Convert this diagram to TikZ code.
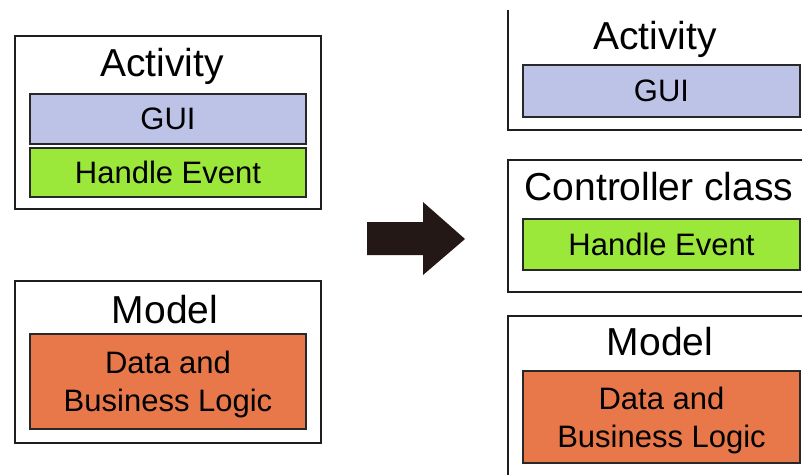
\documentclass[tikz,border=0pt]{standalone}
\usepackage{fontspec}
\setmainfont{Liberation Sans}
\definecolor{boxline}{RGB}{30,30,30}
\definecolor{partline}{RGB}{40,40,40}
\definecolor{guicol}{RGB}{189,195,230}
\definecolor{eventcol}{RGB}{155,232,58}
\definecolor{datacol}{RGB}{232,120,74}
\definecolor{arrowcol}{RGB}{35,24,21}
\begin{document}
\begin{tikzpicture}[x=1pt,y=-1pt,
  outerbox/.style={draw=boxline, line width=2pt, fill=white, inner sep=0pt},
  partbox/.style={draw=partline, line width=1.6pt, inner sep=0pt, align=center,
    font=\fontsize{31}{38}\selectfont},
  title/.style={font=\fontsize{39}{44}\selectfont, anchor=base, inner sep=0pt},
  guifill/.style={fill=guicol},
  eventfill/.style={fill=eventcol},
  datafill/.style={fill=datacol, text depth=0pt},
  arrowfill/.style={fill=arrowcol, draw=none}
]
\useasboundingbox (0,0) rectangle (802,474);
\fill[white] (0,0) rectangle (802,474);

% ---- left side: Activity and Model ----
\node[outerbox, minimum width=306pt, minimum height=173pt] (lact) at (168,122.5) {};
\node[title] (lacttitle) at (162,76) {Activity};
\node[partbox, guifill, minimum width=276pt, minimum height=50pt] (lgui) at (168,119) {GUI};
\node[partbox, eventfill, minimum width=276pt, minimum height=49pt] (levent) at (168,172.5) {Handle Event};

\node[outerbox, minimum width=306pt, minimum height=162pt] (lmodel) at (168,362) {};
\node[title] (lmodeltitle) at (165,323) {Model};
\node[partbox, datafill, minimum width=276pt, minimum height=95pt] (ldata) at (168,381.5) {Data and\\Business Logic};

% ---- transition arrow ----
\coordinate (as1) at (367,222);
\coordinate (tip) at (465,239);
\path[arrowfill] (as1) -- (423,222) -- (423,202) -- (tip) -- (423,275) -- (423,255) -- (367,255) -- cycle;

% ---- right side: Activity, Controller class, Model ----
\begin{scope}
\clip (0,10) rectangle (802,474);
\node[outerbox, minimum width=306pt, minimum height=200pt] (ract) at (661,30) {};
\node[outerbox, minimum width=306pt, minimum height=132pt] (rctrl) at (661,226) {};
\node[outerbox, minimum width=306pt, minimum height=200pt] (rmodel) at (661,416) {};
\end{scope}

\node[title] (racttitle) at (655,49) {Activity};
\node[partbox, guifill, minimum width=277pt, minimum height=52pt] (rgui) at (661.5,91) {GUI};

\node[title] (rctrltitle) at (659,200) {Controller class};
\node[partbox, eventfill, minimum width=277pt, minimum height=51pt] (revent) at (661.5,244.5) {Handle Event};

\node[title] (rmodeltitle) at (660,355) {Model};
\node[partbox, datafill, minimum width=277pt, minimum height=92pt] (rdata) at (661.5,417) {Data and\\Business Logic};
\end{tikzpicture}
\end{document}
